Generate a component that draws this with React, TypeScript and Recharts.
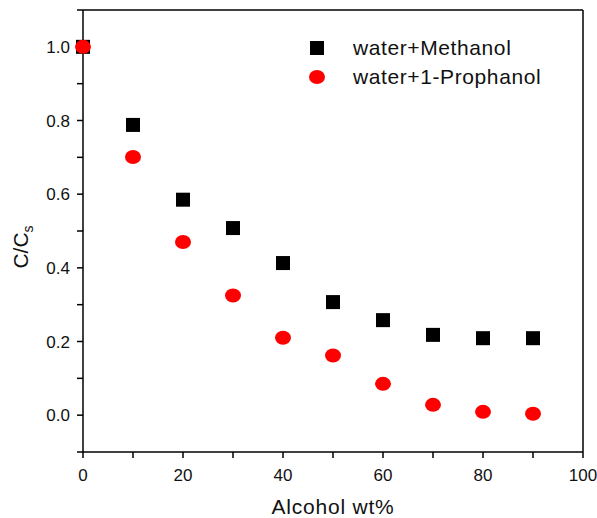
import { Legend, Scatter, ScatterChart, XAxis, YAxis } from 'recharts';

const alcohol = [0, 10, 20, 30, 40, 50, 60, 70, 80, 90];
const methanol = [1.0, 0.788, 0.585, 0.508, 0.413, 0.307, 0.258, 0.218, 0.209, 0.209];
const propanol = [1.0, 0.701, 0.47, 0.325, 0.21, 0.162, 0.085, 0.028, 0.009, 0.004];

const xTicks = [0, 10, 20, 30, 40, 50, 60, 70, 80, 90, 100];
const xLabelTicks = [0, 20, 40, 60, 80, 100];
const yTicks = [-0.1, 0, 0.1, 0.2, 0.3, 0.4, 0.5, 0.6, 0.7, 0.8, 0.9, 1.0, 1.1];
const yLabelTicks = [0, 0.2, 0.4, 0.6, 0.8, 1.0];

const methanolRows = alcohol.map((x, i) => ({ x, y: methanol[i] }));
const propanolRows = alcohol.map((x, i) => ({ x, y: propanol[i] }));

const FONT = '"Liberation Sans", Arial, sans-serif';
const axisStroke = { stroke: '#000', strokeWidth: 1.5 };
const tickStyle = { fontSize: 17, fill: '#111', fontFamily: FONT };

const xFmt = (v: number) => (xLabelTicks.includes(v) ? String(v) : '');
const yFmt = (v: number) => (yLabelTicks.some((t) => Math.abs(t - v) < 1e-6) ? v.toFixed(1) : '');
const blank = () => '';

const Square = (p: any) => <rect x={p.cx - 7} y={p.cy - 7} width={14} height={14} fill="#000" />;
const Dot = (p: any) => <ellipse cx={p.cx} cy={p.cy} rx={8} ry={7} fill="#ff0000" />;

function LegendBox() {
  const row = { display: 'flex', alignItems: 'center', height: 29 };
  const text = { marginLeft: 28, fontSize: 21, fontFamily: FONT, color: '#111', letterSpacing: 0.6 };
  return (
    <div>
      <div style={row}>
        <svg width={16} height={16}><rect x={1} y={1} width={14} height={14} fill="#000" /></svg>
        <span style={text}>water+Methanol</span>
      </div>
      <div style={row}>
        <svg width={16} height={16}><ellipse cx={8} cy={8} rx={8} ry={7} fill="#ff0000" /></svg>
        <span style={text}>water+1-Prophanol</span>
      </div>
    </div>
  );
}

const YLabel = () => (
  <text x={28} y={247} transform="rotate(-90 28 247)" textAnchor="middle" fontSize={21} fontFamily={FONT} fill="#111">
    C/C<tspan fontSize={14} dy={5}>s</tspan>
  </text>
);

export default function App() {
  return (
    <div style={{ position: 'absolute', left: 0, top: 0, background: '#fff' }}>
      <ScatterChart width={597} height={518} margin={{ top: 9, right: 13, left: 0, bottom: 0 }}>
        <XAxis xAxisId="main" type="number" dataKey="x" domain={[0, 100]} ticks={xTicks} interval={0}
          tick={tickStyle} tickFormatter={xFmt} tickSize={6} tickMargin={11} tickLine={axisStroke}
          height={66} axisLine={axisStroke}
          label={{ value: 'Alcohol wt%', position: 'insideBottom', offset: 4, fontSize: 21, fill: '#111', fontFamily: FONT, letterSpacing: 0.8 }} />
        <XAxis xAxisId="top" orientation="top" type="number" dataKey="x" domain={[0, 100]} ticks={xTicks} interval={0}
          tick={tickStyle} tickFormatter={blank} tickSize={4} tickLine={axisStroke} height={1} axisLine={axisStroke} />
        <YAxis yAxisId="main" type="number" dataKey="y" domain={[-0.1, 1.1]} ticks={yTicks} interval={0}
          tick={tickStyle} tickFormatter={yFmt} tickSize={6} tickMargin={7} tickLine={axisStroke}
          width={83} axisLine={axisStroke} label={<YLabel />} />
        <YAxis yAxisId="right" orientation="right" type="number" dataKey="y" domain={[-0.1, 1.1]} ticks={yTicks} interval={0}
          tick={tickStyle} tickFormatter={blank} tickSize={4} tickLine={axisStroke} width={1} axisLine={axisStroke} />
        <Legend content={<LegendBox />} layout="horizontal" verticalAlign="middle" align="center"
          wrapperStyle={{ top: 33, left: 309, width: 280 }} />
        <Scatter name="water+Methanol" data={methanolRows} xAxisId="main" yAxisId="main" shape={Square} isAnimationActive={false} />
        <Scatter name="water+1-Prophanol" data={propanolRows} xAxisId="main" yAxisId="main" shape={Dot} isAnimationActive={false} />
      </ScatterChart>
    </div>
  );
}
